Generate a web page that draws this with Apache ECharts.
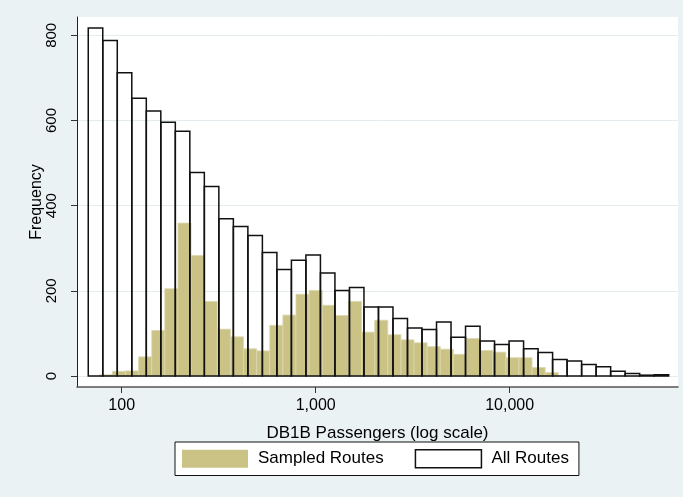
<!DOCTYPE html>
<html>
<head>
<meta charset="utf-8">
<script src="https://cdn.jsdelivr.net/npm/echarts@6/dist/echarts.min.js"></script>
<style>
  html, body { margin: 0; padding: 0; background: #EAF2F3; }
  #chart { width: 683px; height: 497px; }
</style>
</head>
<body>
<div id="chart"></div>
<script>
// Histogram of route sizes on a log10 passenger axis.
// Bins are equal-width in log10 space; each range gives [first edge, last edge].
const allRoutesRange = [67.25, 66010];
const allRoutesCounts = [
  817, 788, 712, 652, 622, 596, 575, 478, 445, 369,
  351, 330, 290, 250, 272, 284, 242, 201, 208, 162,
  162, 135, 113, 109, 127, 91, 117, 82, 74, 82,
  64, 55, 39, 35, 27, 22, 11, 6, 2, 3
];

const sampledRange = [76.64, 17806];
const sampledCounts = [
  3, 11, 12, 45, 107, 205, 359, 283, 175, 110,
  92, 64, 59, 119, 143, 192, 201, 166, 142, 175,
  103, 131, 97, 85, 78, 69, 63, 51, 88, 60,
  56, 43, 43, 20, 8
];

const xTicks = [100, 1000, 10000];
const yTicks = [0, 200, 400, 600, 800];
const seriesNames = ['Sampled Routes', 'All Routes'];

// Turn a log-spaced range and its counts into [low, high, count] rows.
function binRows(range, counts) {
  const a = Math.log10(range[0]);
  const b = Math.log10(range[1]);
  const w = (b - a) / counts.length;
  return counts.map((c, i) => [Math.pow(10, a + i * w), Math.pow(10, a + (i + 1) * w), c]);
}

function barRenderer(style) {
  return function (params, api) {
    const p0 = api.coord([api.value(0), api.value(2)]);
    const p1 = api.coord([api.value(1), 0]);
    return {
      type: 'rect',
      shape: { x: p0[0], y: p0[1], width: p1[0] - p0[0], height: p1[1] - p0[1] },
      style: style
    };
  };
}

const FONT = 'Liberation Sans, Arial, Helvetica, sans-serif';
const chart = echarts.init(document.getElementById('chart'), null, { renderer: 'canvas' });

chart.setOption({
  backgroundColor: '#EAF2F3',
  animation: false,
  textStyle: { fontFamily: FONT },
  grid: {
    left: 77, right: 5, top: 17, bottom: 110,
    show: true, backgroundColor: '#FFFFFF', borderWidth: 0
  },
  legend: {
    left: 175, top: 442,
    orient: 'horizontal',
    backgroundColor: '#FFFFFF',
    borderColor: '#111111', borderWidth: 1, borderRadius: 0,
    padding: [7, 10, 7, 7],
    itemWidth: 66, itemHeight: 18, itemGap: 31,
    textStyle: { fontFamily: FONT, fontSize: 17, color: '#000', padding: [0, 0, 0, 5] },
    data: [
      { name: seriesNames[0], icon: 'rect', itemStyle: { color: '#CBC386', borderWidth: 0 } },
      { name: seriesNames[1], icon: 'rect', itemStyle: { color: '#FFFFFF', borderColor: '#111111', borderWidth: 1.5 } }
    ],
    selectedMode: false
  },
  xAxis: {
    type: 'log',
    logBase: 10,
    min: 58.84,
    max: 73730,
    name: 'DB1B Passengers (log scale)',
    nameLocation: 'middle',
    nameGap: 38,
    nameTextStyle: { fontFamily: FONT, fontSize: 17, color: '#000' },
    axisLine: { show: true, onZero: false, lineStyle: { color: '#555', width: 1.5 } },
    axisTick: { show: true, length: 6, customValues: xTicks, lineStyle: { color: '#333', width: 1 } },
    axisLabel: {
      customValues: xTicks,
      fontFamily: FONT, fontSize: 16, color: '#000', margin: 11,
      formatter: v => Number(v).toLocaleString('en-US')
    },
    splitLine: { show: false },
    minorTick: { show: false }
  },
  yAxis: {
    type: 'value',
    min: -25.8,
    max: 843,
    name: 'Frequency',
    nameLocation: 'middle',
    nameRotate: 90,
    nameGap: 32,
    nameMoveOverlap: false,
    nameTextStyle: { fontFamily: FONT, fontSize: 16, color: '#000' },
    axisLine: { show: true, lineStyle: { color: '#222', width: 1 } },
    axisTick: { show: true, length: 6, customValues: yTicks, lineStyle: { color: '#333', width: 1 } },
    axisLabel: {
      customValues: yTicks,
      rotate: 90,
      fontFamily: FONT, fontSize: 15, color: '#000', margin: 18
    },
    splitLine: { show: true, lineStyle: { color: '#E4ECEF', width: 1 } }
  },
  series: [
    {
      name: seriesNames[0],
      type: 'custom',
      itemStyle: { color: '#CBC386' },
      renderItem: barRenderer({ fill: '#CBC386', stroke: '#DCD7AE', lineWidth: 0.8 }),
      encode: { x: [0, 1], y: 2 },
      data: binRows(sampledRange, sampledCounts)
    },
    {
      name: seriesNames[1],
      type: 'custom',
      itemStyle: { color: '#FFFFFF', borderColor: '#111' },
      renderItem: barRenderer({ fill: null, stroke: '#111111', lineWidth: 1.5 }),
      encode: { x: [0, 1], y: 2 },
      data: binRows(allRoutesRange, allRoutesCounts)
    }
  ]
});
</script>
</body>
</html>
